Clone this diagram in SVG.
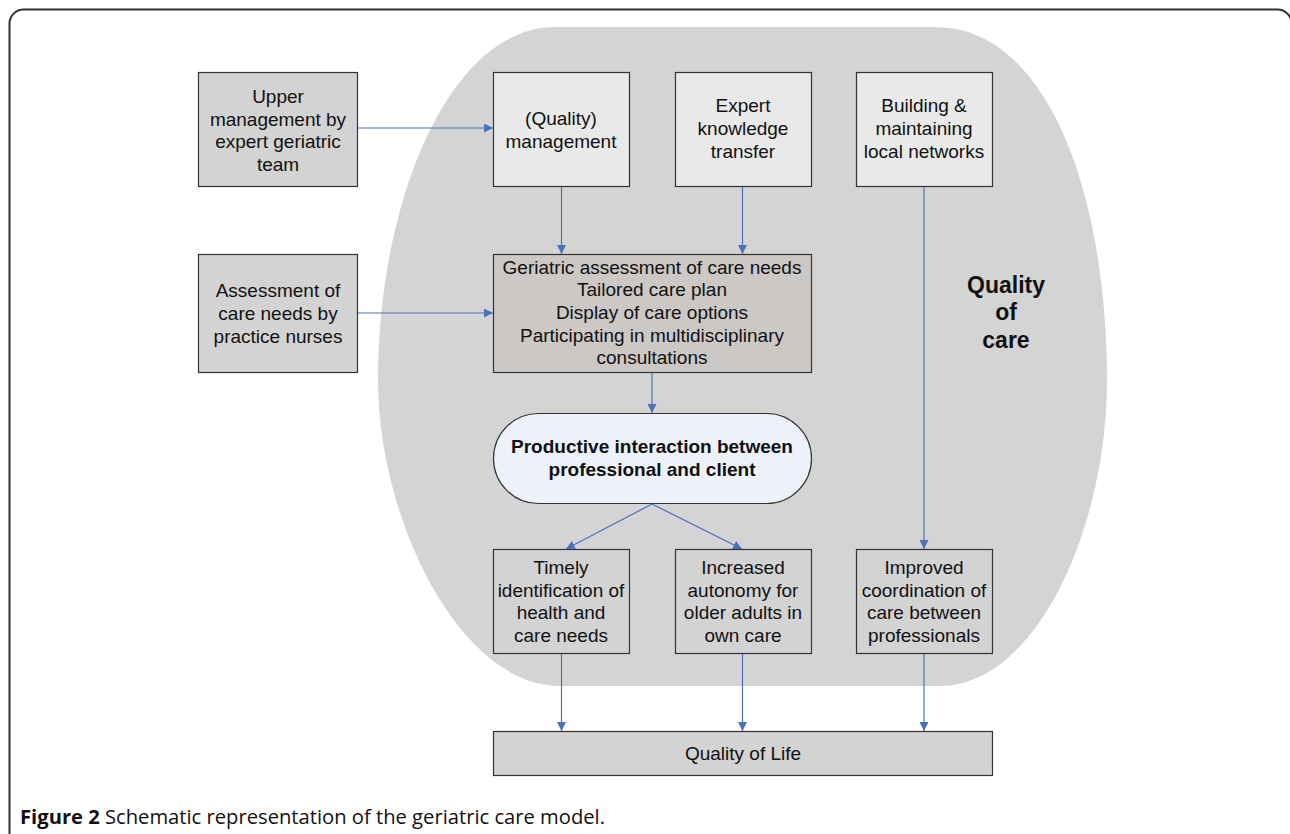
<svg xmlns="http://www.w3.org/2000/svg" width="1290" height="834" viewBox="0 0 1290 834">
<defs>
<style>
.box{stroke:#333;stroke-width:1.2}
.g{fill:#d3d3d3}
.l{fill:#e9e9e9}
.t{font-family:"Liberation Sans",Arial,sans-serif;font-size:19px;fill:#111;text-anchor:middle}
.b{font-weight:bold}
.q{font-size:23px}
.c{fill:none;stroke:#4a72bb;stroke-width:1.2}
</style>
<marker id="ah" viewBox="0 0 10 10" refX="10" refY="5" markerWidth="9" markerHeight="9" markerUnits="userSpaceOnUse" orient="auto">
<path d="M0,0 L10,5 L0,10 Z" fill="#4a72bb"/>
</marker>
</defs>
<rect width="1290" height="834" fill="#fff"/>
<rect x="9.5" y="9.5" width="1282" height="900" rx="14" fill="none" stroke="#333" stroke-width="2"/>
<g id="quality-of-care">
<path d="M555,27 L935,27 C1050,27 1107,200 1107,380 C1107,530 1035,686 940,686 L560,686 C460,686 378,520 378,380 C378,200 450,27 555,27 Z" fill="#d4d4d4"/>
<text class="t b q" x="1006" y="293">Quality</text>
<text class="t b q" x="1006" y="320">of</text>
<text class="t b q" x="1006" y="348">care</text>
</g>
<g id="upper-management">
<rect class="box g" x="198.5" y="72.5" width="159" height="114"/>
<text class="t" x="278" y="103">Upper</text>
<text class="t" x="278" y="126">management by</text>
<text class="t" x="278" y="148">expert geriatric</text>
<text class="t" x="278" y="171">team</text>
</g>
<g id="quality-management">
<rect class="box l" x="493.5" y="72.5" width="136" height="114"/>
<text class="t" x="561" y="125">(Quality)</text>
<text class="t" x="561" y="148">management</text>
</g>
<g id="expert-knowledge">
<rect class="box l" x="675.5" y="72.5" width="136" height="114"/>
<text class="t" x="743" y="112">Expert</text>
<text class="t" x="743" y="135">knowledge</text>
<text class="t" x="743" y="158">transfer</text>
</g>
<g id="local-networks">
<rect class="box l" x="856.5" y="72.5" width="136" height="114"/>
<text class="t" x="924" y="112">Building &amp;</text>
<text class="t" x="924" y="135">maintaining</text>
<text class="t" x="924" y="158">local networks</text>
</g>
<g id="assessment-nurses">
<rect class="box g" x="198.5" y="254.5" width="159" height="118"/>
<text class="t" x="278" y="297">Assessment of</text>
<text class="t" x="278" y="320">care needs by</text>
<text class="t" x="278" y="343">practice nurses</text>
</g>
<g id="geriatric-assessment">
<rect class="box" fill="#cbc8c6" x="493.5" y="254.5" width="318" height="118"/>
<text class="t" x="652" y="274">Geriatric assessment of care needs</text>
<text class="t" x="652" y="296">Tailored care plan</text>
<text class="t" x="652" y="319">Display of care options</text>
<text class="t" x="652" y="342">Participating in multidisciplinary</text>
<text class="t" x="652" y="364">consultations</text>
</g>
<g id="productive-interaction">
<rect class="box" fill="#edf1fa" x="493.5" y="413.5" width="318" height="90" rx="45"/>
<text class="t b" x="652" y="453">Productive interaction between</text>
<text class="t b" x="652" y="476">professional and client</text>
</g>
<g id="timely-identification">
<rect class="box g" x="493.5" y="549.5" width="136" height="104"/>
<text class="t" x="561" y="574">Timely</text>
<text class="t" x="561" y="597">identification of</text>
<text class="t" x="561" y="619">health and</text>
<text class="t" x="561" y="642">care needs</text>
</g>
<g id="increased-autonomy">
<rect class="box g" x="675.5" y="549.5" width="136" height="104"/>
<text class="t" x="743" y="574">Increased</text>
<text class="t" x="743" y="597">autonomy for</text>
<text class="t" x="743" y="619">older adults in</text>
<text class="t" x="743" y="642">own care</text>
</g>
<g id="improved-coordination">
<rect class="box g" x="856.5" y="549.5" width="136" height="104"/>
<text class="t" x="924" y="574">Improved</text>
<text class="t" x="924" y="597">coordination of</text>
<text class="t" x="924" y="619">care between</text>
<text class="t" x="924" y="642">professionals</text>
</g>
<g id="quality-of-life">
<rect class="box g" x="493.5" y="731.5" width="499" height="44" stroke-width="1.6"/>
<text class="t" x="743" y="760">Quality of Life</text>
</g>
<g id="connectors">
<line class="c" x1="358" y1="128" x2="493" y2="128" marker-end="url(#ah)"/>
<line class="c" x1="561.5" y1="187" x2="561.5" y2="254" marker-end="url(#ah)"/>
<line class="c" x1="742.5" y1="187" x2="742.5" y2="254" marker-end="url(#ah)"/>
<line class="c" x1="924" y1="187" x2="924" y2="549" marker-end="url(#ah)"/>
<line class="c" x1="358" y1="313" x2="493" y2="313" marker-end="url(#ah)"/>
<line class="c" x1="652" y1="373" x2="652" y2="413" marker-end="url(#ah)"/>
<line class="c" x1="652" y1="504" x2="566" y2="549" marker-end="url(#ah)"/>
<line class="c" x1="652" y1="504" x2="742" y2="549" marker-end="url(#ah)"/>
<line class="c" x1="561.5" y1="654" x2="561.5" y2="731" marker-end="url(#ah)"/>
<line class="c" x1="742.5" y1="654" x2="742.5" y2="731" marker-end="url(#ah)"/>
<line class="c" x1="924" y1="654" x2="924" y2="731" marker-end="url(#ah)"/>
</g>
<text x="20" y="824" font-family="'Open Sans','Liberation Sans',sans-serif" font-size="19.5" fill="#111" textLength="585" lengthAdjust="spacingAndGlyphs"><tspan font-weight="bold">Figure 2</tspan> Schematic representation of the geriatric care model.</text>
</svg>
